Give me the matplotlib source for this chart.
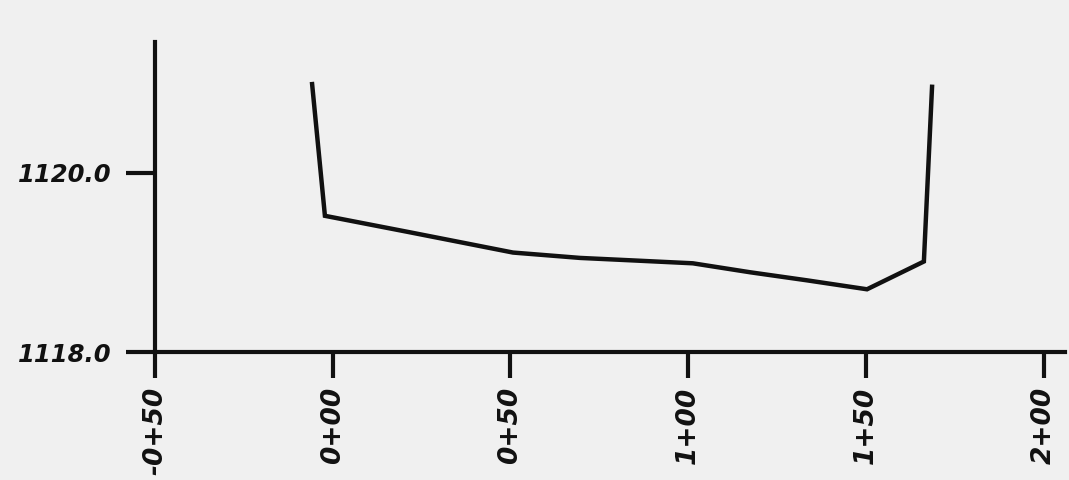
import matplotlib
matplotlib.use("Agg")
import matplotlib.pyplot as plt

# station (100 ft units) and elevation
station = [-0.058, -0.022, 0.212, 0.366, 0.507, 0.696, 0.856, 1.013, 1.174, 1.334, 1.503, 1.663, 1.686]
elevation = [1120.99, 1119.52, 1119.34, 1119.22, 1119.11, 1119.05, 1119.02, 1118.99, 1118.89, 1118.80, 1118.70, 1119.01, 1120.96]

x_ticks = [-0.5, 0.0, 0.5, 1.0, 1.5, 2.0]
x_labels = ["-0+50", "0+00", "0+50", "1+00", "1+50", "2+00"]
y_ticks = [1118.0, 1120.0]
y_labels = ["1118.0", "1120.0"]

ink = "#111111"
paper = "#f0f0f0"

fig = plt.figure(figsize=(10.69, 4.8), dpi=100, facecolor=paper)
ax = fig.add_axes([155 / 1069, 128 / 480, 910 / 1069, 310 / 480])
ax.set_facecolor(paper)

ax.plot(station, elevation, color=ink, linewidth=3.2, solid_joinstyle="miter")

ax.set_xlim(-0.5, 2.06)
ax.set_ylim(1118.0, 1121.46)

for side in ["top", "right"]:
    ax.spines[side].set_visible(False)
for side in ["left", "bottom"]:
    ax.spines[side].set_linewidth(3.0)
    ax.spines[side].set_color(ink)

xfont = dict(family="DejaVu Sans", style="italic", weight="bold", size=19)
yfont = dict(family="DejaVu Sans", style="italic", weight="bold", size=17.5)
ax.set_xticks(x_ticks)
ax.set_xticklabels(x_labels, rotation=90, fontdict=xfont, color=ink)
ax.set_yticks(y_ticks)
ax.set_yticklabels(y_labels, fontdict=yfont, color=ink)
ax.tick_params(axis="x", direction="out", length=19, width=3.0, color=ink, pad=6)
ax.tick_params(axis="y", direction="out", length=21, width=3.0, color=ink, pad=10)

fig.savefig("out.png", dpi=100, facecolor=paper)
